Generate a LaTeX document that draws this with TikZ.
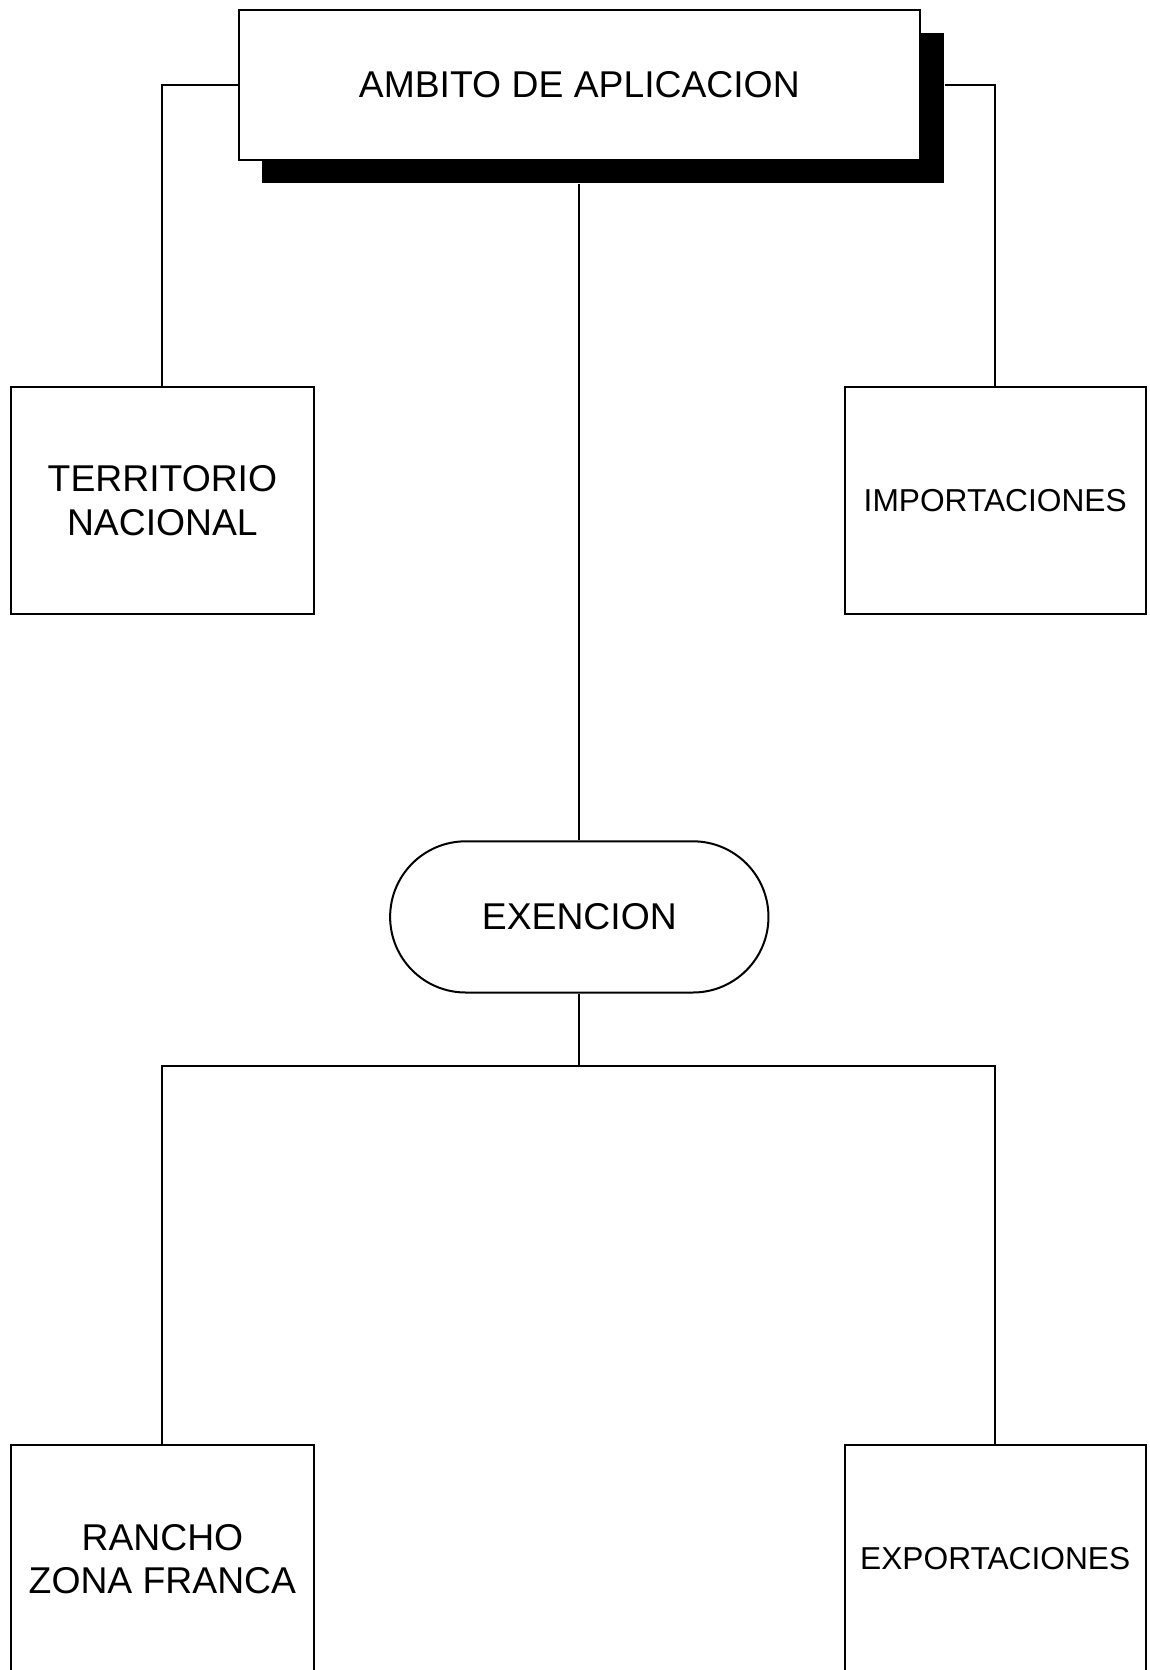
\documentclass[tikz,border=0pt]{standalone}
\usepackage{fontspec}
\setmainfont{Liberation Sans}
\usetikzlibrary{shapes.misc,shadows}

\tikzset{
  boxed/.style={draw,line width=2pt,fill=white,align=center,
    minimum width=303.5pt,minimum height=227.8pt,inner sep=0pt},
  bigtext/.style={font=\fontsize{37.3}{43.7}\selectfont},
  smalltext/.style={font=\fontsize{31.7}{36}\selectfont},
  link/.style={line width=2pt}
}

\begin{document}
\begin{tikzpicture}[x=1pt,y=-1pt]%
  \def\xl{162.4}  % left column
  \def\xr{995.2}  % right column
  \def\xm{579.3}  % middle
  \useasboundingbox (0,0) rectangle (1149,1670);

  \coordinate (split) at (\xm,1066);

  \node[boxed,bigtext,minimum width=681.6pt,minimum height=150.1pt,
        drop shadow={opacity=1,fill=black,shadow xshift=23.4pt,shadow yshift=-23.4pt}]
        (ambito) at (\xm,84.7) {AMBITO DE APLICACION};

  \node[boxed,bigtext] (territorio) at (\xl,500.5) {TERRITORIO\\NACIONAL};
  \node[boxed,smalltext,minimum width=301.4pt] (importa) at (\xr,500.5) {IMPORTACIONES};

  \node[draw,line width=2pt,fill=white,bigtext,rounded rectangle,
        minimum width=385pt,minimum height=151.2pt]
        (exencion) at (\xm,916.9) {EXENCION};

  \node[boxed,bigtext] (rancho) at (\xl,1559) {RANCHO\\ZONA FRANCA};
  \node[boxed,smalltext,minimum width=301.4pt] (exporta) at (\xr,1559) {EXPORTACIONES};

  % connectors
  \draw[link] (ambito.west) -| (territorio.north);
  \draw[link] (ambito.east) ++(23.4,0) -| (importa.north);
  \draw[link] (ambito.south) ++(0,23.4) -- (exencion.north);
  \draw[link] (exencion.south) -- (split);
  \draw[link] (rancho.north) |- (split) -| (exporta.north);
\end{tikzpicture}
\end{document}
